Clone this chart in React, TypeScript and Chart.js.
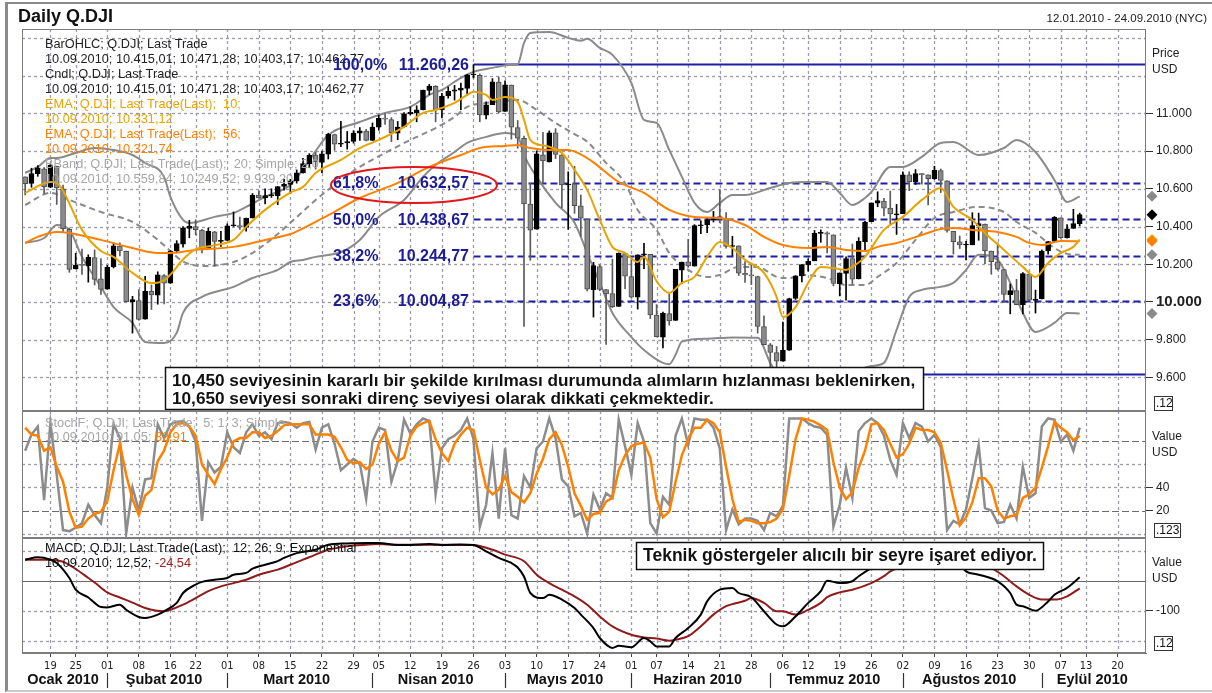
import React, { useEffect, useRef } from 'react';
import { Chart, registerables } from 'chart.js';

Chart.register(...registerables);

// ---------------- categories: trading days 12.01.2010 - 24.09.2010 ----------------
const JAN = [12, 13, 14, 15, 19, 20, 21, 22, 25, 26, 27, 28, 29];
const FEB = [1, 2, 3, 4, 5, 8, 9, 10, 11, 12, 16, 17, 18, 19, 22, 23, 24, 25, 26];
const MAR = [1, 2, 3, 4, 5, 8, 9, 10, 11, 12, 15, 16, 17, 18, 19, 22, 23, 24, 25, 26, 29, 30, 31];
const APR = [1, 5, 6, 7, 8, 9, 12, 13, 14, 15, 16, 19, 20, 21, 22, 23, 26, 27, 28, 29, 30];
const MAY = [3, 4, 5, 6, 7, 10, 11, 12, 13, 14, 17, 18, 19, 20, 21, 24, 25, 26, 27, 28];
const JUN = [1, 2, 3, 4, 7, 8, 9, 10, 11, 14, 15, 16, 17, 18, 21, 22, 23, 24, 25, 28, 29, 30];
const JUL = [1, 2, 6, 7, 8, 9, 12, 13, 14, 15, 16, 19, 20, 21, 22, 23, 26, 27, 28, 29, 30];
const AUG = [2, 3, 4, 5, 6, 9, 10, 11, 12, 13, 16, 17, 18, 19, 20, 23, 24, 25, 26, 27, 30, 31];
const SEP = [1, 2, 3, 7, 8, 9, 10, 13, 14, 15, 16, 17, 20, 21, 22, 23, 24];

const MONTHS = [
  { key: '01', name: 'Ocak 2010', days: JAN },
  { key: '02', name: 'Şubat 2010', days: FEB },
  { key: '03', name: 'Mart 2010', days: MAR },
  { key: '04', name: 'Nisan 2010', days: APR },
  { key: '05', name: 'Mayıs 2010', days: MAY },
  { key: '06', name: 'Haziran 2010', days: JUN },
  { key: '07', name: 'Temmuz 2010', days: JUL },
  { key: '08', name: 'Ağustos 2010', days: AUG },
  { key: '09', name: 'Eylül 2010', days: SEP },
];
const LABELS: string[] = MONTHS.flatMap((m) => m.days.map((d) => m.key + '-' + String(d).padStart(2, '0')));

const WEEK_TICKS = ['01-19', '01-25', '02-01', '02-08', '02-16', '02-22', '03-01', '03-08', '03-15', '03-22', '03-29',
  '04-05', '04-12', '04-19', '04-26', '05-03', '05-10', '05-17', '05-24', '06-01', '06-07', '06-14', '06-21', '06-28',
  '07-06', '07-12', '07-19', '07-26', '08-02', '08-09', '08-16', '08-23', '08-30', '09-07', '09-13', '09-20'];

// ---------------- OHLC (12.01.2010 - 10.09.2010) ----------------
const OPEN = [
  10663, 10628, 10680, 10706, 10608, 10719, 10600, 10385, 10175, 10195, 10191, 10235, 10123,
  10068, 10186, 10296, 10269, 10000, 10008, 9909, 10057, 10036, 10140, 10100, 10270, 10306, 10390, 10400, 10381, 10285, 10372, 10321,
  10326, 10404, 10405, 10395, 10445, 10566, 10551, 10563, 10564, 10612, 10623, 10642, 10685, 10733, 10779, 10740, 10784, 10887, 10836, 10843, 10851, 10895, 10906,
  10857, 10927, 10973, 10967, 10895, 10928, 10997, 11004, 11018, 11122, 11143, 11018, 11092, 11117, 11123, 11132, 11203, 11201, 10990, 11046, 11166,
  11010, 11150, 10925, 10868, 10519, 10386, 10780, 10742, 10896, 10780, 10620, 10626, 10509, 10440, 10065, 10187, 10065, 10044, 9976, 10257,
  10134, 10025, 10250, 10252, 9931, 9813, 9938, 9902, 10169, 10213, 10190, 10404, 10409, 10434, 10452, 10442, 10294, 10297, 10152, 10143, 10135, 9870,
  9773, 9732, 9686, 9744, 10019, 10138, 10197, 10218, 10364, 10366, 10356, 10097, 10151, 10230, 10122, 10319, 10425, 10524, 10535, 10498, 10462,
  10468, 10674, 10637, 10679, 10674, 10654, 10697, 10642, 10374, 10319, 10302, 10303, 10403, 10413, 10270, 10213, 10172, 10039, 10061, 9985, 10148, 10008,
  10016, 10270, 10321, 10446, 10341, 10390, 10415.01,
];
const HIGH = [
  10663, 10709, 10723, 10712, 10729, 10720, 10620, 10392, 10258, 10280, 10250, 10276, 10230,
  10194, 10313, 10314, 10270, 10030, 10065, 10136, 10090, 10160, 10145, 10272, 10325, 10400, 10433, 10436, 10385, 10392, 10375, 10375,
  10414, 10477, 10450, 10445, 10575, 10590, 10600, 10600, 10612, 10650, 10650, 10700, 10762, 10786, 10793, 10800, 10895, 10890, 10958, 10904, 10908, 10924, 10915,
  10949, 10990, 10998, 10977, 10957, 11004, 11034, 11040, 11123, 11154, 11147, 11106, 11140, 11148, 11160, 11206, 11258, 11209, 11061, 11184, 11192,
  11172, 11150, 10962, 10880, 10630, 10801, 10899, 10907, 10919, 10780, 10690, 10719, 10566, 10440, 10210, 10197, 10065, 10227, 10260, 10258,
  10224, 10250, 10311, 10252, 9986, 9946, 10044, 10173, 10212, 10332, 10410, 10431, 10449, 10480, 10594, 10474, 10348, 10298, 10214, 10202, 10137, 9927,
  9780, 9764, 9894, 10020, 10139, 10198, 10229, 10379, 10382, 10372, 10356, 10154, 10239, 10307, 10341, 10428, 10525, 10584, 10549, 10588, 10517,
  10690, 10690, 10702, 10682, 10674, 10720, 10705, 10644, 10374, 10350, 10321, 10473, 10471, 10413, 10270, 10313, 10172, 10095, 10120, 10156, 10149, 10063,
  10276, 10321, 10453, 10446, 10410, 10491, 10471.28,
];
const LOW = [
  10568, 10608, 10666, 10575, 10606, 10517, 10370, 10157, 10175, 10146, 10105, 10090, 10040,
  10068, 10180, 10244, 10000, 9835, 9903, 9909, 9960, 9988, 9990, 10099, 10260, 10290, 10340, 10355, 10260, 10285, 10190, 10295,
  10326, 10400, 10385, 10375, 10445, 10550, 10520, 10554, 10516, 10593, 10575, 10630, 10683, 10712, 10704, 10685, 10758, 10804, 10823, 10810, 10842, 10857, 10854,
  10856, 10910, 10941, 10850, 10860, 10925, 10992, 10955, 11018, 11098, 10955, 10975, 11080, 11070, 11020, 11096, 11188, 10955, 10970, 11046, 11002,
  11010, 10863, 10815, 9870, 10221, 10386, 10630, 10742, 10760, 10500, 10385, 10470, 10349, 10058, 9920, 10059, 9775, 9970, 9976, 10070,
  10020, 9962, 10176, 9912, 9815, 9757, 9877, 9902, 10097, 10183, 10190, 10362, 10367, 10424, 10420, 10285, 10246, 10140, 10103, 10092, 9835, 9773,
  9614, 9617, 9686, 9743, 10013, 10106, 10163, 10218, 10316, 10260, 10085, 10032, 10009, 10095, 10122, 10270, 10425, 10505, 10456, 10412, 10358,
  10468, 10590, 10623, 10624, 10515, 10650, 10580, 10370, 10254, 10283, 10223, 10303, 10327, 10203, 10147, 10169, 9997, 9937, 9985, 9937, 10007, 9941,
  10016, 10254, 10321, 10336, 10338, 10390, 10403.17,
];
const CLOSE = [
  10627, 10680, 10711, 10610, 10725, 10604, 10389, 10173, 10196, 10194, 10236, 10120, 10067,
  10185, 10297, 10270, 10002, 10012, 9908, 10058, 10038, 10144, 10099, 10268, 10309, 10392, 10402, 10383, 10283, 10375, 10321, 10325,
  10404, 10405, 10396, 10444, 10566, 10552, 10564, 10567, 10612, 10624, 10642, 10685, 10733, 10779, 10742, 10785, 10888, 10836, 10841, 10850, 10895, 10907, 10857,
  10927, 10973, 10969, 10897, 10927, 10997, 11005, 11019, 11123, 11144, 11019, 11092, 11117, 11124, 11134, 11204, 11205, 10991, 11045, 11167, 11008,
  11151, 10926, 10868, 10520, 10380, 10785, 10748, 10896, 10782, 10620, 10625, 10510, 10444, 10068, 10193, 10067, 10043, 9975, 10259, 10137,
  10025, 10250, 10255, 9931, 9816, 9940, 9899, 10173, 10212, 10191, 10405, 10409, 10434, 10450, 10442, 10294, 10298, 10152, 10144, 10138, 9870, 9774,
  9732, 9686, 9743, 10018, 10139, 10198, 10216, 10364, 10367, 10359, 10098, 10154, 10230, 10121, 10322, 10424, 10525, 10537, 10497, 10467, 10466,
  10674, 10636, 10680, 10675, 10653, 10698, 10644, 10379, 10320, 10303, 10302, 10405, 10415, 10271, 10213, 10174, 10040, 10060, 9985, 10150, 10009, 10015,
  10270, 10320, 10448, 10341, 10388, 10415, 10462.77,
];

// ---------------- overlays (trading-day index -> value) ----------------
const EMA10_IDX = [0, 4, 5, 6, 9, 12, 14, 17, 20, 22, 23, 25, 27, 30, 33, 35, 38, 42, 44, 46, 50, 53, 56, 60, 63, 65, 68, 70, 71, 73,
  74, 76, 78, 79, 80, 82, 83, 85, 87, 89, 91, 93, 95, 97, 98, 100, 102, 104, 106, 108, 110, 112, 114, 117, 119, 120, 122, 124, 126, 128,
  130, 131, 133, 136, 139, 142, 145, 147, 150, 152, 155, 158, 160, 162, 164, 166, 167];
const EMA10_VAL = [10578, 10636, 10631, 10590, 10382, 10270, 10239, 10154, 10100, 10115, 10145, 10225, 10280, 10300, 10329, 10398, 10488, 10580, 10610, 10684,
  10753, 10816, 10859, 10928, 11002, 11018, 11055, 11098, 11114, 11098, 11071, 11087, 11060, 10965, 10859, 10830, 10822, 10790, 10700, 10594,
  10435, 10292, 10260, 10212, 10239, 10110, 10048, 10101, 10133, 10239, 10318, 10286, 10223, 10154, 10027, 9920, 9973, 10101, 10186, 10180,
  10170, 10186, 10239, 10382, 10451, 10541, 10604, 10504, 10435, 10366, 10276, 10186, 10133, 10207, 10260, 10292, 10331];

const EMA55_IDX = [0, 2, 5, 7, 12, 17, 21, 23, 27, 33, 38, 42, 44, 48, 53, 59, 64, 69, 72, 76, 78, 80, 83, 86, 89, 90, 94, 98, 102, 106,
  110, 114, 117, 120, 124, 127, 130, 133, 135, 138, 142, 145, 147, 150, 154, 157, 159, 161, 164, 167];
const EMA55_VAL = [10313, 10345, 10371, 10366, 10329, 10286, 10260, 10260, 10276, 10292, 10329, 10360, 10390, 10460, 10551, 10631, 10716, 10779, 10816, 10827,
  10832, 10816, 10806, 10806, 10763, 10740, 10636, 10578, 10488, 10451, 10445, 10408, 10345, 10302, 10286, 10292, 10276, 10270, 10292, 10313,
  10355, 10387, 10392, 10382, 10371, 10345, 10313, 10302, 10323, 10322];

const BBU_IDX = [0, 2, 4, 5, 8, 11, 14, 17, 19, 22, 23, 25, 26, 30, 33, 35, 38, 42, 43, 44, 46, 48, 53, 57, 61, 64, 66, 69, 71, 74,
  77, 78, 79, 80, 83, 86, 88, 89, 91, 93, 96, 98, 100, 102, 104, 106, 108, 110, 112, 114, 118, 121, 124, 127, 129, 131, 133, 134, 137, 139,
  142, 145, 147, 151, 155, 157, 160, 163, 165, 167];
const BBU_VAL = [10684, 10716, 10763, 10763, 10790, 10816, 10806, 10779, 10737, 10663, 10557, 10435, 10419, 10451, 10472, 10504, 10557, 10620, 10660, 10700,
  10800, 10885, 10954, 11002, 11034, 11098, 11124, 11188, 11220, 11241, 11257, 11260, 11373, 11426, 11431, 11400, 11385, 11395, 11347, 11310,
  11161, 10965, 10949, 10806, 10663, 10525, 10477, 10525, 10567, 10567, 10604, 10631, 10636, 10636, 10578, 10514, 10551, 10583, 10716, 10716,
  10769, 10843, 10848, 10779, 10816, 10859, 10795, 10647, 10530, 10560];

const BBM_IDX = [0, 4, 7, 12, 17, 21, 23, 25, 28, 33, 36, 40, 42, 44, 46, 50, 53, 57, 61, 65, 68, 70, 73, 76, 78, 81, 84, 87, 89, 92,
  95, 97, 100, 102, 105, 108, 110, 113, 116, 119, 121, 123, 127, 130, 133, 135, 138, 141, 144, 147, 151, 155, 157, 160, 163, 165, 167];
const BBM_VAL = [10514, 10578, 10541, 10477, 10424, 10330, 10270, 10215, 10190, 10212, 10260, 10360, 10420, 10480, 10540, 10647, 10716, 10790, 10859, 10922,
  10981, 11034, 11055, 11066, 11071, 11018, 10949, 10890, 10850, 10737, 10631, 10488, 10382, 10260, 10170, 10133, 10143, 10186, 10186, 10133,
  10127, 10143, 10127, 10090, 10090, 10133, 10207, 10329, 10445, 10477, 10504, 10477, 10424, 10366, 10286, 10255, 10250];

const BBL_IDX = [0, 3, 5, 7, 9, 12, 14, 17, 19, 22, 24, 25, 28, 33, 36, 40, 42, 44, 46, 50, 53, 56, 60, 63, 65, 68, 70, 73, 76, 78,
  79, 81, 84, 87, 89, 91, 93, 96, 98, 101, 102, 103, 104, 108, 112, 116, 118, 120, 123, 126, 129, 132, 134, 136, 138, 140, 142, 145, 147, 149,
  151, 154, 156, 158, 160, 163, 165, 167];
const BBL_VAL = [10313, 10339, 10408, 10382, 10239, 10080, 9973, 9889, 9788, 9783, 9836, 9942, 10027, 10080, 10127, 10170, 10212, 10223, 10239, 10265,
  10329, 10451, 10541, 10663, 10726, 10795, 10843, 10875, 10896, 10880, 10780, 10663, 10525, 10420, 10260, 10101, 9942, 9814, 9745, 9677,
  9670, 9720, 9790, 9805, 9812, 9810, 9677, 9580, 9520, 9520, 9600, 9640, 9660, 9677, 9852, 10027, 10064, 10080, 10101, 10170,
  10250, 10223, 10101, 9942, 9841, 9889, 9942, 9939];

// Fibonacci retracement levels
const FIB_VALUES = [11260.26, 10632.57, 10438.67, 10244.77, 10004.87, 9617.08];
const FIB_PCT = ['100,0%', '61,8%', '50,0%', '38,2%', '23,6%', ''];
const FIB_TEXT = ['11.260,26', '10.632,57', '10.438,67', '10.244,77', '10.004,87', ''];
const FIB_FROM = [71, 71, 71, 71, 71, 118];
const FIB_SOLID = [true, false, false, false, false, true];

// ---------------- Stochastic fast (5;1;3) ----------------
const STOCH_K = [
  72, 86, 93, 29, 96, 51, 3, 2, 5, 9, 25, 16, 9, 40, 95, 83, 0, 40, 20, 47,
  48, 95, 83, 95, 97, 98, 93, 80, 11, 62, 53, 58, 88, 75, 70, 88, 95, 85, 88, 82,
  96, 97, 96, 92, 96, 97, 73, 92, 95, 78, 55, 60, 65, 61, 30, 80, 92, 90, 45, 63,
  99, 87, 95, 100, 98, 34, 74, 82, 85, 90, 100, 82, 6, 25, 70, 13, 74, 16, 13, 50,
  40, 74, 80, 100, 83, 47, 41, 15, 18, 0, 34, 21, 35, 31, 99, 76, 51, 96, 80, 9,
  0, 32, 25, 85, 100, 77, 100, 99, 99, 92, 74, 3, 21, 8, 13, 13, 11, 3, 18, 15,
  24, 100, 100, 100, 96, 93, 92, 86, 6, 25, 57, 31, 89, 96, 100, 96, 85, 64, 51, 96,
  83, 96, 93, 80, 86, 75, 3, 11, 8, 21, 48, 77, 22, 20, 9, 10, 25, 13, 58, 31,
  35, 93, 100, 99, 80, 86, 72, 92,
];
const STOCH_D = [
  92, 86, 85, 72, 75, 58, 45, 19, 5, 6, 13, 17, 19, 28, 55, 78, 51, 30, 16, 33,
  38, 63, 72, 88, 95, 96, 93, 85, 60, 51, 43, 56, 66, 80, 83, 83, 88, 88, 83, 85,
  89, 94, 95, 95, 95, 95, 86, 86, 86, 84, 75, 64, 61, 62, 56, 60, 78, 88, 72, 63,
  66, 85, 93, 96, 98, 82, 70, 63, 78, 86, 92, 90, 64, 40, 34, 38, 50, 36, 32, 27,
  35, 52, 65, 82, 88, 77, 58, 35, 24, 12, 17, 18, 28, 31, 55, 68, 76, 78, 79, 66,
  30, 14, 19, 45, 68, 82, 92, 92, 99, 96, 88, 58, 30, 10, 12, 11, 9, 9, 10, 13,
  21, 50, 82, 100, 99, 97, 94, 90, 62, 40, 30, 36, 57, 72, 95, 96, 90, 78, 66, 69,
  78, 92, 90, 90, 88, 79, 55, 30, 7, 14, 27, 48, 48, 41, 20, 13, 15, 16, 31, 34,
  40, 57, 76, 97, 92, 88, 81, 85,
];

// ---------------- MACD (12;26;9) ----------------
const MACD_IDX = [0, 2, 4, 5, 7, 8, 10, 11, 12, 13, 15, 16, 18, 19, 21, 22, 24, 25, 27, 28, 30, 32, 33, 35, 36, 38, 40, 41, 43, 46,
  48, 51, 54, 56, 59, 61, 64, 66, 69, 71, 73, 75, 77, 78, 79, 80, 82, 83, 85, 87, 88, 90, 91, 93, 94, 96, 98, 99, 100, 102,
  103, 105, 107, 108, 110, 112, 113, 115, 117, 119, 120, 122, 124, 126, 127, 129, 131, 132, 134, 136, 138, 140, 142, 144, 146, 148, 149, 151, 154, 156,
  157, 158, 160, 162, 163, 165, 167];
const MACD_VAL = [71, 79, 71, 60, 10, -29, -55, -73, -87, -88, -79, -96, -120, -123, -112, -101, -73, -40, -12, -3, 4, 10, 21, 27, 41, 54, 66, 77, 93, 104,
  121, 125, 127, 127, 120, 120, 123, 120, 122, 120, 99, 77, 60, 45, 15, -40, -57, -46, -62, -90, -112, -157, -190, -223, -216, -221, -190, -201, -218, -218,
  -190, -157, -112, -68, -29, -23, -40, -54, -101, -145, -151, -118, -73, -34, 1, -7, -1, 16, 43, 65, 85, 100, 108, 105, 90, 55, 32, 21, -1, -40,
  -79, -84, -99, -68, -46, -23, 12.52];
const SIGNAL_IDX = [0, 4, 6, 8, 10, 11, 13, 15, 17, 19, 22, 23, 25, 27, 29, 31, 33, 35, 37, 40, 42, 44, 46, 48, 51, 54, 56, 59, 65, 71,
  74, 76, 79, 81, 83, 85, 87, 89, 91, 93, 96, 98, 100, 102, 103, 105, 107, 109, 111, 114, 115, 117, 119, 120, 122, 124, 126, 127, 129, 131,
  134, 136, 137, 139, 141, 143, 145, 147, 149, 151, 153, 155, 157, 159, 161, 163, 165, 167];
const SIGNAL_VAL = [71, 71, 64, 40, 10, -5, -38, -55, -72, -90, -101, -96, -79, -57, -34, -18, -7, 4, 21, 38, 54, 71, 88, 104, 116, 121, 123, 121, 121, 120,
  104, 88, 66, 21, -7, -29, -51, -79, -118, -151, -179, -188, -192, -199, -196, -184, -151, -112, -84, -66, -57, -73, -101, -101, -112, -96, -73, -54, -38, -29,
  -7, 16, 32, 48, 62, 72, 78, 78, 70, 55, 43, 16, -18, -46, -62, -62, -51, -24.54];

// ---------------- axis ticks ----------------
const PRICE_TICKS = [9600, 9800, 10000, 10200, 10400, 10600, 10800, 11000];
const PRICE_GRID = [9600, 9800, 10000, 10200, 10400, 10600, 10800, 11000, 11200, 11400];
const STOCH_TICKS = [20, 40];
const STOCH_GRID_LIGHT = [0, 40, 60];
const STOCH_GRID_DARK = [20, 80];
const MACD_TICKS = [-100];
const MACD_GRID_LIGHT = [100, -100, -200];

// ---------------- styling ----------------
const FONT = "'Liberation Sans', Arial, Helvetica, sans-serif";
const NARROW = "'Liberation Sans Narrow', 'DejaVu Sans Condensed', 'Liberation Sans', Arial, sans-serif";
const GOLD = '#e6a400';
const ORANGE = '#ff8000';
const BB = '#8a8a8a';
const BB_TEXT = '#a6a6a6';
const FIB_LINE = '#1f1fa6';
const FIB_TXT = '#1c1c96';
const GRID = '#9b9bab';
const DARK_GRID = '#6a6a6a';
const SIGNAL = '#8e1c1c';
const LEGEND_FONT = `12.75px ${FONT}`;
const W = 1212;
const PLOT_L = 22;
const AXIS_W = 66;

const pts = (idx: number[], val: number[]) => idx.map((k, j) => ({ x: LABELS[k], y: val[j] }));
const fmtK = (v: number) => {
  const s = String(Math.round(v));
  return s.length > 3 ? s.slice(0, -3) + '.' + s.slice(-3) : s;
};
const isUp = (i: number) => CLOSE[i] >= OPEN[i];

function lineDs(data: any[], color: string, width: number, order: number, extra: any = {}) {
  return {
    type: 'line', data, borderColor: color, backgroundColor: color, borderWidth: width, pointRadius: 0,
    cubicInterpolationMode: 'monotone', fill: false, order, ...extra,
  };
}

function yAxis(min: number, max: number, ticks: number[], fmt: (v: number) => string, font: any) {
  return {
    position: 'right', min, max,
    afterBuildTicks: (s: any) => { s.ticks = ticks.map((v) => ({ value: v })); },
    afterFit: (s: any) => { s.width = AXIS_W; s.paddingTop = 0; s.paddingBottom = 0; },
    grid: { display: true, drawOnChartArea: false, drawTicks: true, tickLength: 7, color: '#333', lineWidth: 1 },
    border: { display: false },
    ticks: { padding: 3, color: '#222', font, callback: (v: number) => fmt(v), autoSkip: false },
  };
}

const hiddenX = { type: 'category', labels: LABELS, offset: true, display: false };

function txt(ctx: CanvasRenderingContext2D, s: string, x: number, y: number, font: string, color: string, align: CanvasTextAlign = 'left') {
  ctx.font = font;
  ctx.fillStyle = color;
  ctx.textAlign = align;
  ctx.textBaseline = 'middle';
  ctx.fillText(s, x, y);
}

function hGrid(ctx: CanvasRenderingContext2D, a: any, ys: number[], color: string, dash: number[], lw: number) {
  ctx.save();
  ctx.strokeStyle = color;
  ctx.lineWidth = lw;
  ctx.setLineDash(dash);
  ys.forEach((yy) => {
    const p = Math.round(yy) + 0.5;
    ctx.beginPath(); ctx.moveTo(a.left, p); ctx.lineTo(a.right, p); ctx.stroke();
  });
  ctx.restore();
}

function weekGrid(ctx: CanvasRenderingContext2D, a: any, x: any) {
  ctx.save();
  ctx.strokeStyle = GRID;
  ctx.lineWidth = 1.3;
  ctx.setLineDash([3, 3]);
  WEEK_TICKS.forEach((t) => {
    const i = LABELS.indexOf(t);
    const px = Math.round(x.getPixelForValue(i)) + 0.5;
    ctx.beginPath(); ctx.moveTo(px, a.top); ctx.lineTo(px, a.bottom); ctx.stroke();
  });
  ctx.restore();
}

function border(ctx: CanvasRenderingContext2D, a: any) {
  ctx.save();
  ctx.strokeStyle = '#7c7c7c';
  ctx.lineWidth = 1;
  ctx.setLineDash([]);
  ctx.strokeRect(a.left + 0.5, a.top + 0.5, a.right - a.left - 1, a.bottom - a.top - 1);
  ctx.restore();
}

function smallBox(ctx: CanvasRenderingContext2D, s: string, x: number, y: number, w: number, h: number) {
  ctx.save();
  ctx.strokeStyle = '#333';
  ctx.lineWidth = 1;
  ctx.setLineDash([]);
  ctx.strokeRect(x + 0.5, y + 0.5, w, h);
  txt(ctx, s, x + 2, y + h / 2 + 1, `12px ${FONT}`, '#111');
  ctx.restore();
}

function textBox(ctx: CanvasRenderingContext2D, lines: string[], x: number, y: number, w: number, h: number, tx: number, lineYs: number[], targetW: number) {
  ctx.save();
  ctx.fillStyle = '#fff';
  ctx.fillRect(x, y, w, h);
  ctx.strokeStyle = '#111';
  ctx.lineWidth = 1.5;
  ctx.setLineDash([]);
  ctx.strokeRect(x + 0.5, y + 0.5, w, h);
  ctx.font = `bold 15px ${FONT}`;
  const m = ctx.measureText(lines[0]).width;
  const size = (15 * targetW) / m;
  lines.forEach((l, i) => txt(ctx, l, tx, lineYs[i], `bold ${size.toFixed(2)}px ${FONT}`, '#111'));
  ctx.restore();
}

function diamond(ctx: CanvasRenderingContext2D, x: number, y: number, r: number, color: string) {
  ctx.save();
  ctx.fillStyle = color;
  ctx.beginPath();
  ctx.moveTo(x, y - r); ctx.lineTo(x + r, y); ctx.lineTo(x, y + r); ctx.lineTo(x - r, y); ctx.closePath();
  ctx.fill();
  ctx.restore();
}

// ---------------- plugins ----------------
const pricePlugin = {
  id: 'pricePanel',
  beforeDatasetsDraw(chart: any) {
    const { ctx, chartArea: a, scales } = chart;
    const x = scales.x, y = scales.y;
    hGrid(ctx, a, PRICE_GRID.map((v) => y.getPixelForValue(v)), GRID, [3, 3], 1.3);
    weekGrid(ctx, a, x);
    ctx.save();
    FIB_VALUES.forEach((v, i) => {
      const py = Math.round(y.getPixelForValue(v)) + 0.5;
      const x0 = x.getPixelForValue(FIB_FROM[i]);
      ctx.strokeStyle = FIB_LINE;
      ctx.lineWidth = 2;
      ctx.setLineDash(FIB_SOLID[i] ? [] : [7, 4]);
      ctx.beginPath(); ctx.moveTo(x0, py); ctx.lineTo(a.right, py); ctx.stroke();
    });
    ctx.restore();
  },
  afterDatasetsDraw(chart: any) {
    const { ctx, chartArea: a, scales } = chart;
    const y = scales.y;
    ctx.save();
    // legend texts
    const legend: [string, string][] = [
      ['BarOHLC; Q.DJI; Last Trade', '#222'],
      ['10.09.2010; 10.415,01; 10.471,28; 10.403,17; 10.462,77', '#222'],
      ['Cndl; Q.DJI; Last Trade', '#222'],
      ['10.09.2010; 10.415,01; 10.471,28; 10.403,17; 10.462,77', '#222'],
      ['EMA; Q.DJI; Last Trade(Last);  10;', GOLD],
      ['10.09.2010; 10.331,12', GOLD],
      ['EMA; Q.DJI; Last Trade(Last);  56;', ORANGE],
      ['10.09.2010; 10.321,74', ORANGE],
      ['BBand; Q.DJI; Last Trade(Last);  20; Simple; 2,0', BB_TEXT],
      ['10.09.2010; 10.559,84; 10.249,52; 9.939,20', BB_TEXT],
    ];
    legend.forEach(([s, c], i) => txt(ctx, s, 45, 44 + i * 15, LEGEND_FONT, c));

    // fibonacci labels
    FIB_VALUES.forEach((v, i) => {
      if (!FIB_PCT[i]) return;
      const py = y.getPixelForValue(v) + 1;
      txt(ctx, FIB_PCT[i], 333, py, `bold 16px ${FONT}`, FIB_TXT, 'left');
      txt(ctx, FIB_TEXT[i], 469, py, `bold 16px ${FONT}`, FIB_TXT, 'right');
    });

    // red ellipse around 61,8 %
    ctx.strokeStyle = '#e3161c';
    ctx.lineWidth = 2;
    ctx.setLineDash([]);
    ctx.beginPath();
    ctx.ellipse(414, 185, 83, 18, 0, 0, Math.PI * 2);
    ctx.stroke();

    // comment box
    textBox(ctx, [
      '10,450 seviyesinin kararlı bir şekilde kırılması durumunda alımların hızlanması beklenirken,',
      '10,650 seviyesi sonraki direnç seviyesi olarak dikkati çekmektedir.',
    ], 165, 367, 758, 42, 172, [381, 399], 744);

    border(ctx, a);

    // last-value markers
    const markers: [number, string][] = [
      [BBU_VAL[BBU_VAL.length - 1], BB],
      [CLOSE[CLOSE.length - 1], '#000'],
      [EMA10_VAL[EMA10_VAL.length - 1], GOLD],
      [EMA55_VAL[EMA55_VAL.length - 1], ORANGE],
      [BBM_VAL[BBM_VAL.length - 1], BB],
      [BBL_VAL[BBL_VAL.length - 1], BB],
    ];
    markers.forEach(([v, c]) => diamond(ctx, a.right + 6, y.getPixelForValue(v), 5.5, c));

    txt(ctx, 'Price', 1152, 54, `12px ${FONT}`, '#222');
    txt(ctx, 'USD', 1152, 70, `12px ${FONT}`, '#222');
    smallBox(ctx, '.12', 1154, 396, 18, 14);

    // header
    txt(ctx, 'Daily Q.DJI', 18, 17, `bold 18px ${FONT}`, '#111');
    txt(ctx, '12.01.2010 - 24.09.2010 (NYC)', 1207, 19, `11.5px ${FONT}`, '#222', 'right');
    ctx.restore();
  },
};

const stochPlugin = {
  id: 'stochPanel',
  beforeDatasetsDraw(chart: any) {
    const { ctx, chartArea: a, scales } = chart;
    const x = scales.x, y = scales.y;
    hGrid(ctx, a, STOCH_GRID_LIGHT.map((v) => y.getPixelForValue(v)), GRID, [3, 3], 1.3);
    hGrid(ctx, a, STOCH_GRID_DARK.map((v) => y.getPixelForValue(v)), DARK_GRID, [7, 3], 1.2);
    weekGrid(ctx, a, x);
  },
  afterDatasetsDraw(chart: any) {
    const { ctx, chartArea: a } = chart;
    ctx.save();
    txt(ctx, 'StochF; Q.DJI; Last Trade;  5; 1; 3; Simple', 45, 12, LEGEND_FONT, BB_TEXT);
    ctx.font = LEGEND_FONT;
    const first = '10.09.2010; 91,05; ';
    txt(ctx, first, 45, 26, LEGEND_FONT, BB_TEXT);
    const w = ctx.measureText(first).width;
    txt(ctx, '82,91', 45 + w, 26, LEGEND_FONT, ORANGE);
    border(ctx, a);
    txt(ctx, 'Value', 1152, 26, `12px ${FONT}`, '#222');
    txt(ctx, 'USD', 1152, 42, `12px ${FONT}`, '#222');
    smallBox(ctx, '.123', 1154, 112, 26, 14);
    ctx.restore();
  },
};

const macdPlugin = {
  id: 'macdPanel',
  beforeDatasetsDraw(chart: any) {
    const { ctx, chartArea: a, scales } = chart;
    const x = scales.x, y = scales.y;
    hGrid(ctx, a, MACD_GRID_LIGHT.map((v) => y.getPixelForValue(v)), GRID, [3, 3], 1.3);
    hGrid(ctx, a, [y.getPixelForValue(0)], DARK_GRID, [], 1.2);
    weekGrid(ctx, a, x);
  },
  afterDatasetsDraw(chart: any) {
    const { ctx, chartArea: a, scales } = chart;
    const x = scales.x;
    ctx.save();
    txt(ctx, 'MACD; Q.DJI; Last Trade(Last);  12; 26; 9; Exponential', 45, 10, LEGEND_FONT, '#111');
    ctx.font = LEGEND_FONT;
    const first = '10.09.2010; 12,52; ';
    txt(ctx, first, 45, 25, LEGEND_FONT, '#111');
    const w = ctx.measureText(first).width;
    txt(ctx, '-24,54', 45 + w, 25, LEGEND_FONT, '#a31f1f');

    textBox(ctx, ['Teknik göstergeler alıcılı bir seyre işaret ediyor.'], 636, 4, 407, 27, 643, [18], 394);

    border(ctx, a);
    txt(ctx, 'Value', 1152, 25, `12px ${FONT}`, '#222');
    txt(ctx, 'USD', 1152, 41, `12px ${FONT}`, '#222');
    smallBox(ctx, '.12', 1154, 98, 18, 14);

    // month labels & separators
    let start = 0;
    MONTHS.forEach((m, mi) => {
      const end = start + m.days.length - 1;
      const x0 = x.getPixelForValue(start);
      const x1 = x.getPixelForValue(end);
      txt(ctx, m.name, (x0 + x1) / 2, 142, `bold 14.5px ${FONT}`, '#111', 'center');
      if (mi > 0) {
        ctx.strokeStyle = '#333';
        ctx.lineWidth = 1.2;
        ctx.beginPath();
        ctx.moveTo(Math.round(x0) + 0.5, 135);
        ctx.lineTo(Math.round(x0) + 0.5, 150);
        ctx.stroke();
      }
      start = end + 1;
    });
    ctx.restore();
  },
};

const baseOptions = (top: number) => ({
  responsive: false,
  maintainAspectRatio: false,
  animation: false,
  events: [],
  layout: { padding: { left: PLOT_L, right: 0, top, bottom: 0 } },
  plugins: { legend: { display: false }, tooltip: { enabled: false } },
});

function makePrice(canvas: HTMLCanvasElement) {
  return new Chart(canvas, {
    type: 'bar',
    data: {
      labels: LABELS,
      datasets: [
        lineDs(pts(EMA10_IDX, EMA10_VAL), GOLD, 2, 0),
        lineDs(pts(EMA55_IDX, EMA55_VAL), ORANGE, 2, 1),
        {
          type: 'bar', data: OPEN.map((o, i) => [o, CLOSE[i]]), grouped: false, barThickness: 5,
          backgroundColor: (c: any) => (isUp(c.dataIndex) ? '#000' : '#8a8a8a'),
          borderColor: (c: any) => (isUp(c.dataIndex) ? '#000' : '#4e4e4e'),
          borderWidth: 1, borderSkipped: false, minBarLength: 1, order: 2,
        },
        {
          type: 'bar', data: LOW.map((l, i) => [l, HIGH[i]]), grouped: false, barThickness: 1,
          backgroundColor: (c: any) => (isUp(c.dataIndex) ? '#000' : '#5a5a5a'), borderWidth: 0, order: 3,
        },
        lineDs(pts(BBU_IDX, BBU_VAL), BB, 2, 4),
        lineDs(pts(BBM_IDX, BBM_VAL), BB, 2, 5, { borderDash: [6, 4] }),
        lineDs(pts(BBL_IDX, BBL_VAL), BB, 2, 6),
      ],
    } as any,
    options: {
      ...baseOptions(29),
      scales: {
        x: hiddenX,
        y: yAxis(9422, 11447, PRICE_TICKS, fmtK, (c: any) =>
          c.tick && c.tick.value === 10000 ? { family: FONT, size: 15, weight: 'bold' } : { family: FONT, size: 12 }),
      },
    } as any,
    plugins: [pricePlugin],
  });
}

function makeStoch(canvas: HTMLCanvasElement) {
  return new Chart(canvas, {
    type: 'line',
    data: {
      labels: LABELS,
      datasets: [
        { data: STOCH_D, borderColor: ORANGE, borderWidth: 2.5, pointRadius: 0, tension: 0, order: 0 },
        { data: STOCH_K, borderColor: '#8c8c8c', borderWidth: 2.5, pointRadius: 0, tension: 0, order: 1 },
      ],
    } as any,
    options: {
      ...baseOptions(0),
      scales: {
        x: hiddenX,
        y: yAxis(-3.9, 106.5, STOCH_TICKS, (v) => String(v), { family: FONT, size: 12 }),
      },
    } as any,
    plugins: [stochPlugin],
  });
}

function makeMacd(canvas: HTMLCanvasElement) {
  const weekSet = new Set(WEEK_TICKS);
  return new Chart(canvas, {
    type: 'line',
    data: {
      labels: LABELS,
      datasets: [
        { data: pts(MACD_IDX, MACD_VAL), borderColor: '#000', borderWidth: 2, pointRadius: 0, cubicInterpolationMode: 'monotone', order: 0 },
        { data: pts(SIGNAL_IDX, SIGNAL_VAL), borderColor: SIGNAL, borderWidth: 2, pointRadius: 0, cubicInterpolationMode: 'monotone', order: 1 },
      ],
    } as any,
    options: {
      ...baseOptions(0),
      scales: {
        x: {
          type: 'category', labels: LABELS, offset: true, display: true,
          grid: {
            display: true, drawOnChartArea: false, drawTicks: true, tickLength: 4, offset: false, lineWidth: 1,
            color: (c: any) => (weekSet.has(LABELS[c.index]) ? '#444' : 'rgba(0,0,0,0)'),
          },
          border: { display: true, color: '#7c7c7c' },
          ticks: {
            autoSkip: false, maxRotation: 0, minRotation: 0, padding: 3, color: '#222',
            font: { family: NARROW, size: 11 },
            callback: (_v: any, i: number) => (weekSet.has(LABELS[i]) ? LABELS[i].slice(3) : ''),
          },
          afterFit: (s: any) => { s.height = 40; s.paddingLeft = 0; s.paddingRight = 0; },
        },
        y: yAxis(-240, 143.3, MACD_TICKS, (v) => String(v), { family: FONT, size: 12 }),
      },
    } as any,
    plugins: [macdPlugin],
  });
}

export default function App() {
  const pRef = useRef<HTMLCanvasElement>(null);
  const sRef = useRef<HTMLCanvasElement>(null);
  const mRef = useRef<HTMLCanvasElement>(null);

  useEffect(() => {
    const charts = [makePrice(pRef.current!), makeStoch(sRef.current!), makeMacd(mRef.current!)];
    return () => charts.forEach((c) => c.destroy());
  }, []);

  const cs = (top: number, h: number): React.CSSProperties => ({ position: 'absolute', left: 0, top, width: W, height: h, display: 'block' });

  return (
    <div style={{ position: 'fixed', left: 0, top: 0, width: W, height: 693, background: '#fff', overflow: 'hidden' }}>
      <canvas ref={pRef} width={W} height={411} style={cs(0, 411)} />
      <canvas ref={sRef} width={W} height={127} style={cs(411, 127)} />
      <canvas ref={mRef} width={W} height={155} style={cs(538, 155)} />
      <div style={{ position: 'absolute', left: 5, top: 2, width: 1210, height: 686, borderTop: '2px solid #8a8a8a', borderLeft: '3px solid #8a8a8a', borderBottom: '2px solid #c8c8c8', pointerEvents: 'none' }} />
    </div>
  );
}
